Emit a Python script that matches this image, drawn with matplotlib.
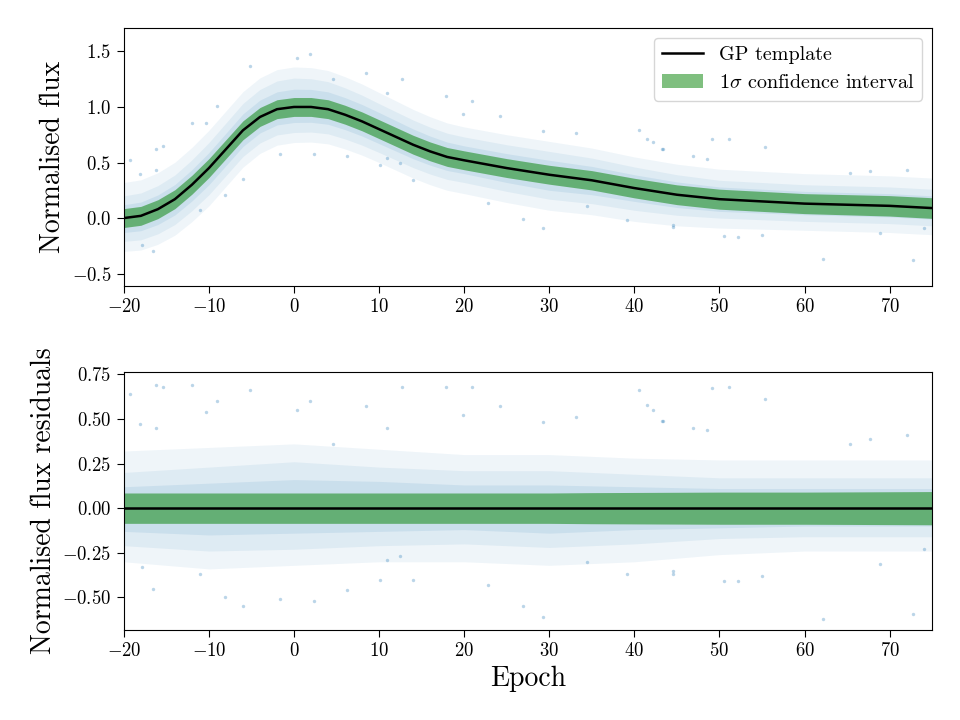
import numpy as np
import matplotlib
matplotlib.use("Agg")
import matplotlib.pyplot as plt

plt.rcParams['font.family'] = 'serif'
plt.rcParams['font.serif'] = ['cmr10']
plt.rcParams['mathtext.fontset'] = 'cm'
plt.rcParams['axes.formatter.use_mathtext'] = True

# GP template
epoch = [-20, -18, -16, -14, -12, -10, -8, -6, -4, -2, 0, 2, 4, 6, 8, 10, 12, 14,
         16, 18, 20, 25, 30, 35, 40, 45, 50, 55, 60, 65, 70, 75]
template = [0.00, 0.02, 0.08, 0.17, 0.30, 0.45, 0.62, 0.79, 0.91, 0.98, 1.00, 1.00,
            0.98, 0.93, 0.87, 0.80, 0.73, 0.66, 0.60, 0.55, 0.52, 0.45, 0.39, 0.34,
            0.27, 0.21, 0.17, 0.15, 0.13, 0.12, 0.11, 0.09]
sigma = [0.085, 0.085, 0.085, 0.085, 0.085, 0.085, 0.085, 0.085, 0.085, 0.085, 0.085,
         0.085, 0.085, 0.085, 0.085, 0.085, 0.085, 0.085, 0.085, 0.085, 0.085, 0.085,
         0.085, 0.087, 0.088, 0.089, 0.09, 0.09, 0.09, 0.091, 0.092, 0.093]

# extent of the data cloud around the template (residual units), three density levels
env_epoch = [-20, -10, 0, 10, 20, 30, 40, 50, 60, 75]
core_hi = [0.12, 0.14, 0.16, 0.15, 0.13, 0.13, 0.12, 0.11, 0.11, 0.11]
core_lo = [-0.13, -0.15, -0.14, -0.13, -0.12, -0.14, -0.12, -0.11, -0.10, -0.10]
mid_hi = [0.20, 0.23, 0.26, 0.23, 0.21, 0.21, 0.19, 0.17, 0.17, 0.17]
mid_lo = [-0.21, -0.24, -0.23, -0.21, -0.20, -0.22, -0.20, -0.17, -0.16, -0.16]
outer_hi = [0.32, 0.34, 0.36, 0.33, 0.30, 0.30, 0.28, 0.27, 0.27, 0.27]
outer_lo = [-0.30, -0.34, -0.32, -0.30, -0.30, -0.32, -0.30, -0.26, -0.24, -0.24]

# individual sparse points
pt_epoch = [-19.3, -16.2, -15.4, -12.0, -18.1, -16.2, -9.1, -10.3, -16.6, -17.9, -6.0,
            -8.1, -11.1, 2.3, -1.7, 1.9, 0.3, 8.5, 10.9, -5.2, 4.6, 6.2, 10.1, 12.5,
            12.7, 17.9, 20.9, 24.2, 19.9, 29.3, 33.2, 40.5, 41.5, 43.4, 26.9, 29.3,
            22.8, 14.0, 39.1, 44.6, 10.9, 34.4, 49.1, 51.1, 55.4, 42.2, 43.2, 46.9,
            48.5, 67.7, 72.0, 65.4, 62.2, 72.8, 50.5, 52.2, 55.0, 44.6, 68.9, 74.0]
pt_resid = [0.64, 0.69, 0.68, 0.69, 0.47, 0.45, 0.60, 0.54, -0.45, -0.33, -0.55,
            -0.50, -0.37, -0.52, -0.51, 0.60, 0.55, 0.57, 0.45, 0.66, 0.36, -0.46,
            -0.40, -0.27, 0.68, 0.68, 0.68, 0.57, 0.52, 0.48, 0.51, 0.66, 0.58, 0.49,
            -0.55, -0.61, -0.43, -0.40, -0.37, -0.37, -0.29, -0.30, 0.67, 0.68, 0.61,
            0.55, 0.49, 0.45, 0.44, 0.39, 0.41, 0.36, -0.62, -0.59, -0.41, -0.41,
            -0.38, -0.35, -0.31, -0.23]

ep = np.array(epoch)
tp = np.array(template)
sg = np.array(sigma)
blue = '#1f77b4'
levels = [(outer_lo, outer_hi, 0.07), (mid_lo, mid_hi, 0.08), (core_lo, core_hi, 0.10)]

fig = plt.figure(figsize=(9.6, 7.2), dpi=100)
ax1 = fig.add_axes([0.129, 0.603, 0.842, 0.358])
ax2 = fig.add_axes([0.129, 0.125, 0.842, 0.358])

# top panel
for lo, hi, a in levels:
    ax1.fill_between(ep, tp + np.interp(ep, env_epoch, lo), tp + np.interp(ep, env_epoch, hi),
                     color=blue, alpha=a, lw=0)
ax1.scatter(pt_epoch, np.interp(pt_epoch, ep, tp) + np.array(pt_resid) * 0.8,
            s=6, color=blue, alpha=0.3, lw=0)
band = ax1.fill_between(ep, tp - sg, tp + sg, color='green', alpha=0.5, lw=0)
line, = ax1.plot(ep, tp, color='k', lw=1.8)
ax1.set_xlim(-20, 75)
ax1.set_ylim(-0.61, 1.71)
ax1.set_yticks([-0.5, 0.0, 0.5, 1.0, 1.5])
ax1.set_xticks(range(-20, 80, 10))
ax1.set_ylabel('Normalised flux', fontsize=20)
ax1.legend([line, band], ['GP template', r'$1\sigma$ confidence interval'],
           loc='upper right', fontsize=14.5)

# residual panel
for lo, hi, a in levels:
    ax2.fill_between(env_epoch, lo, hi, color=blue, alpha=a, lw=0)
ax2.scatter(pt_epoch, pt_resid, s=6, color=blue, alpha=0.3, lw=0)
ax2.fill_between(ep, -sg, sg, color='green', alpha=0.5, lw=0)
ax2.plot(ep, np.zeros_like(ep), color='k', lw=1.8)
ax2.set_xlim(-20, 75)
ax2.set_ylim(-0.682, 0.761)
ax2.set_yticks([-0.5, -0.25, 0.0, 0.25, 0.5, 0.75])
ax2.set_xticks(range(-20, 80, 10))
ax2.set_ylabel('Normalised flux residuals', fontsize=20)
ax2.set_xlabel('Epoch', fontsize=20)

for ax in (ax1, ax2):
    ax.tick_params(labelsize=13.5, length=5, pad=4)

fig.savefig('out.png', dpi=100)
